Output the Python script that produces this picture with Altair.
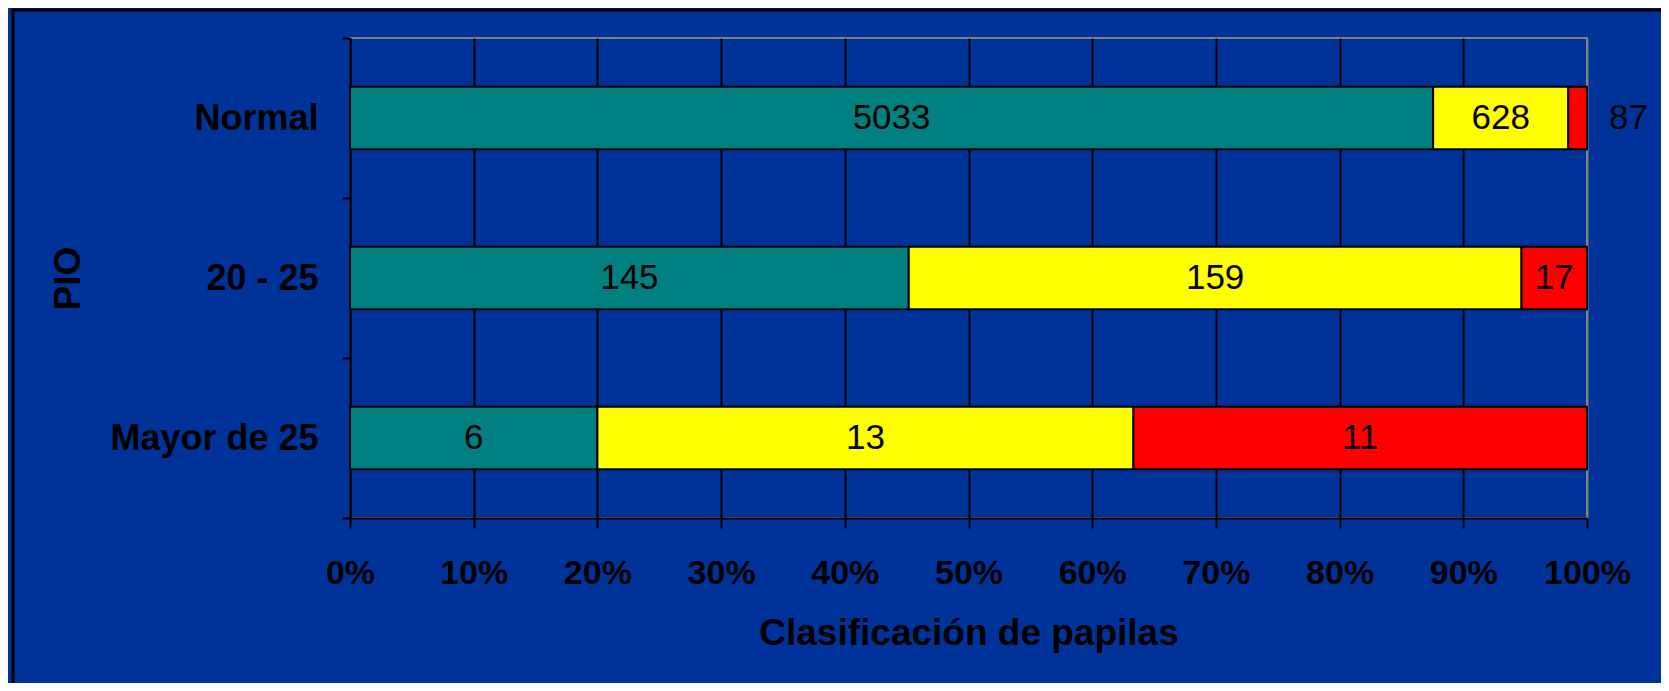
import altair as alt
import pandas as pd

categories = ["Normal", "20 - 25", "Mayor de 25"]
series = ["Verde", "Amarillo", "Rojo"]
verde = [5033, 145, 6]
amarillo = [628, 159, 13]
rojo = [87, 17, 11]
colors = ["#008080", "#FFFF00", "#FF0000"]
x_ticks = [0, 0.1, 0.2, 0.3, 0.4, 0.5, 0.6, 0.7, 0.8, 0.9, 1.0]

rows = []
for i, c in enumerate(categories):
    for j, (s, vals) in enumerate(zip(series, [verde, amarillo, rojo])):
        rows.append({"cat": c, "serie": s, "orden": j, "valor": vals[i]})
df = pd.DataFrame(rows)

W, H = 1237, 480
FONT = "Liberation Sans"

base = alt.Chart(df).transform_stack(
    stack="valor", groupby=["cat"], as_=["ini", "fin"],
    offset="normalize", sort=[alt.SortField("orden")]
).transform_calculate(
    mid="(datum.ini + datum.fin) / 2",
    ancho="datum.fin - datum.ini"
)

y_enc = alt.Y(
    "cat:N", sort=categories,
    scale=alt.Scale(paddingInner=0, paddingOuter=0),
    axis=alt.Axis(
        title="PIO", titleFont=FONT, titleFontSize=37, titleFontWeight="bold",
        titleColor="black", titleX=-282, titleBaseline="middle",
        labelFont=FONT, labelFontSize=36, labelFontWeight="bold", labelColor="black",
        labelLimit=0, labelPadding=24, tickSize=8, tickColor="black", tickWidth=2,
        domainColor="black", domainWidth=2, tickBand="extent", grid=False,
    ),
)

x_axis = alt.Axis(
    values=x_ticks, format=".0%", title="Clasificación de papilas",
    titleFont=FONT, titleFontSize=37, titleFontWeight="bold", titleColor="black",
    titleY=115, titleBaseline="middle",
    labelFont=FONT, labelFontSize=34, labelFontWeight="bold", labelColor="black",
    labelFlush=False, labelPadding=28, tickSize=10, tickColor="black", tickWidth=2,
    domainColor="black", domainWidth=2,
    grid=True, gridWidth=2,
    gridColor=alt.condition("datum.value >= 1", alt.value("#808080"), alt.value("black")),
)

bars = base.mark_bar(stroke="black", strokeWidth=2, height={"band": 0.39}).encode(
    y=y_enc,
    x=alt.X("ini:Q", scale=alt.Scale(domain=[0, 1], nice=False), axis=x_axis),
    x2="fin:Q",
    color=alt.Color("serie:N", scale=alt.Scale(domain=series, range=colors), legend=None),
)

labels_in = base.transform_filter("datum.ancho >= 0.03").mark_text(
    font=FONT, fontSize=35, color="black", align="center", baseline="middle"
).encode(
    y=alt.Y("cat:N", sort=categories),
    x=alt.X("mid:Q"),
    text="valor:Q",
)

labels_out = base.transform_filter("datum.ancho < 0.03").mark_text(
    font=FONT, fontSize=35, color="black", align="left", baseline="middle", dx=22
).encode(
    y=alt.Y("cat:N", sort=categories),
    x=alt.X("fin:Q"),
    text="valor:Q",
)

border = alt.Chart(pd.DataFrame({"a": [0]})).mark_rect(
    fillOpacity=0, stroke="black", strokeWidth=3
).encode(
    x=alt.value(-337), y=alt.value(-28), x2=alt.value(W + 200), y2=alt.value(H + 300)
)

chart = alt.layer(bars, labels_in, labels_out, border).properties(
    width=W, height=H,
    background="#003399",
    padding={"left": 342, "top": 30, "right": 74, "bottom": 165},
    autosize=alt.AutoSizeParams(type="none"),
).configure_view(stroke="#808080", strokeWidth=2)

chart.save("out.html", embed_options={"renderer": "svg", "actions": False})
